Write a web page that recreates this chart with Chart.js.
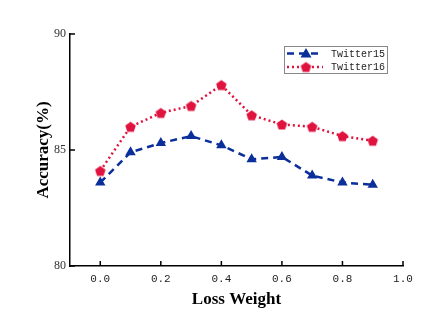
<!DOCTYPE html>
<html>
<head>
<meta charset="utf-8">
<script src="https://cdn.jsdelivr.net/npm/chart.js@4.4.1/dist/chart.umd.min.js"></script>
<style>
  html, body { margin: 0; padding: 0; background: #fff; }
  #wrap { width: 423px; height: 324px; }
</style>
</head>
<body>
<div id="wrap"><canvas id="myChart"></canvas></div>
<script>
// data
const lossWeight = [0.0, 0.1, 0.2, 0.3, 0.4, 0.5, 0.6, 0.7, 0.8, 0.9];
const twitter15 = [83.6, 84.9, 85.3, 85.6, 85.2, 84.6, 84.7, 83.9, 83.6, 83.5];
const twitter16 = [84.1, 86.0, 86.6, 86.9, 87.8, 86.5, 86.1, 86.0, 85.6, 85.4];
const xTicks = [0.0, 0.2, 0.4, 0.6, 0.8, 1.0];
const yTicks = [80, 85, 90];
const seriesNames = ['Twitter15', 'Twitter16'];

const BLUE = '#0b2f9a';
const RED = '#e0123e';

// pentagon marker (no built-in pentagon in Chart.js)
function pentagon(r, color) {
  const c = document.createElement('canvas');
  const s = Math.ceil(r * 2 + 2);
  c.width = s; c.height = s;
  const g = c.getContext('2d');
  g.fillStyle = color;
  g.beginPath();
  for (let i = 0; i < 5; i++) {
    const a = -Math.PI / 2 + i * 2 * Math.PI / 5;
    const px = s / 2 + r * Math.cos(a), py = s / 2 + r * Math.sin(a) + 0.5;
    if (i === 0) g.moveTo(px, py); else g.lineTo(px, py);
  }
  g.closePath();
  g.fill();
  return c;
}
const pentaImg = pentagon(5.5, RED);

// inward tick marks
const innerTicks = {
  id: 'innerTicks',
  afterDraw(chart) {
    const ctx = chart.ctx;
    const a = chart.chartArea;
    const xs = chart.scales.x, ys = chart.scales.y;
    ctx.save();
    ctx.strokeStyle = '#000';
    ctx.lineWidth = 1.5;
    ctx.beginPath();
    xTicks.forEach(v => {
      const px = xs.getPixelForValue(v);
      ctx.moveTo(px, a.bottom); ctx.lineTo(px, a.bottom - 5);
    });
    yTicks.forEach(v => {
      const py = ys.getPixelForValue(v);
      ctx.moveTo(a.left, py); ctx.lineTo(a.left + 5, py);
    });
    ctx.stroke();
    ctx.restore();
  }
};

// legend with line sample + marker
const boxLegend = {
  id: 'boxLegend',
  afterDraw(chart) {
    const ctx = chart.ctx;
    const left = 284, top = 46, w = 103, h = 27;
    ctx.save();
    ctx.strokeStyle = '#888';
    ctx.lineWidth = 1;
    ctx.strokeRect(left + 0.5, top + 0.5, w, h);
    chart.data.datasets.forEach((ds, i) => {
      const y = top + 7.5 + i * 13.5;
      ctx.strokeStyle = ds.borderColor;
      ctx.lineWidth = 2.5;
      ctx.setLineDash(ds.borderDash);
      ctx.beginPath();
      ctx.moveTo(left + 3, y); ctx.lineTo(left + 39, y);
      ctx.stroke();
      ctx.setLineDash([]);
      if (ds.pointStyle === 'triangle') {
        ctx.fillStyle = ds.pointBackgroundColor;
        ctx.beginPath();
        ctx.moveTo(left + 22, y - 5.5);
        ctx.lineTo(left + 27.5, y + 4);
        ctx.lineTo(left + 16.5, y + 4);
        ctx.closePath();
        ctx.fill();
      } else {
        ctx.drawImage(ds.pointStyle, left + 22 - pentaImg.width / 2, y - pentaImg.height / 2);
      }
      ctx.fillStyle = '#222';
      ctx.font = '10px "Liberation Mono"';
      ctx.textBaseline = 'middle';
      ctx.fillText(ds.label, left + 47, y + 0.5);
    });
    ctx.restore();
  }
};

const ctx = document.getElementById('myChart');

const myChart = new Chart(ctx, {
  type: 'line',
  data: {
    labels: lossWeight,
    datasets: [
      {
        label: seriesNames[0],
        data: lossWeight.map((x, i) => ({ x: x, y: twitter15[i] })),
        borderColor: BLUE,
        borderWidth: 2.5,
        borderDash: [7, 5],
        pointStyle: 'triangle',
        pointRadius: 6,
        pointBackgroundColor: BLUE,
        pointBorderColor: BLUE,
        pointBorderWidth: 0,
        tension: 0,
        fill: false
      },
      {
        label: seriesNames[1],
        data: lossWeight.map((x, i) => ({ x: x, y: twitter16[i] })),
        borderColor: RED,
        borderWidth: 2.5,
        borderDash: [2, 3],
        pointStyle: pentaImg,
        pointRadius: 6,
        pointBackgroundColor: RED,
        pointBorderColor: RED,
        tension: 0,
        fill: false
      }
    ]
  },
  options: {
    responsive: true,
    maintainAspectRatio: false,
    animation: false,
    layout: { padding: { left: 33, right: 20, top: 34, bottom: 14 } },
    plugins: {
      legend: { display: false },
      tooltip: { enabled: false }
    },
    scales: {
      x: {
        type: 'linear',
        min: -0.1,
        max: 1.0,
        afterBuildTicks: s => { s.ticks = xTicks.map(v => ({ value: v })); },
        afterFit: s => { s.height = 44; },
        grid: { display: false, drawTicks: false },
        border: { display: true, color: '#000', width: 1.5 },
        ticks: {
          padding: 6,
          color: '#222',
          font: { family: '"Liberation Mono"', size: 11 },
          callback: v => v.toFixed(1)
        },
        title: {
          display: true,
          text: 'Loss Weight',
          color: '#000',
          font: { family: '"Liberation Serif"', size: 17, weight: 'bold' },
          padding: { top: 2, bottom: 0 }
        }
      },
      y: {
        min: 80,
        max: 90,
        afterBuildTicks: s => { s.ticks = yTicks.map(v => ({ value: v })); },
        afterFit: s => { s.width = 37; },
        grid: { display: false, drawTicks: false },
        border: { display: true, color: '#000', width: 1.5 },
        ticks: {
          padding: 4,
          color: '#333',
          font: { family: '"Liberation Serif"', size: 12 }
        },
        title: {
          display: true,
          text: 'Accuracy(%)',
          color: '#000',
          font: { family: '"Liberation Serif"', size: 17, weight: 'bold' },
          padding: { top: 0, bottom: 2 }
        }
      }
    }
  },
  plugins: [innerTicks, boxLegend]
});
</script>
</body>
</html>
